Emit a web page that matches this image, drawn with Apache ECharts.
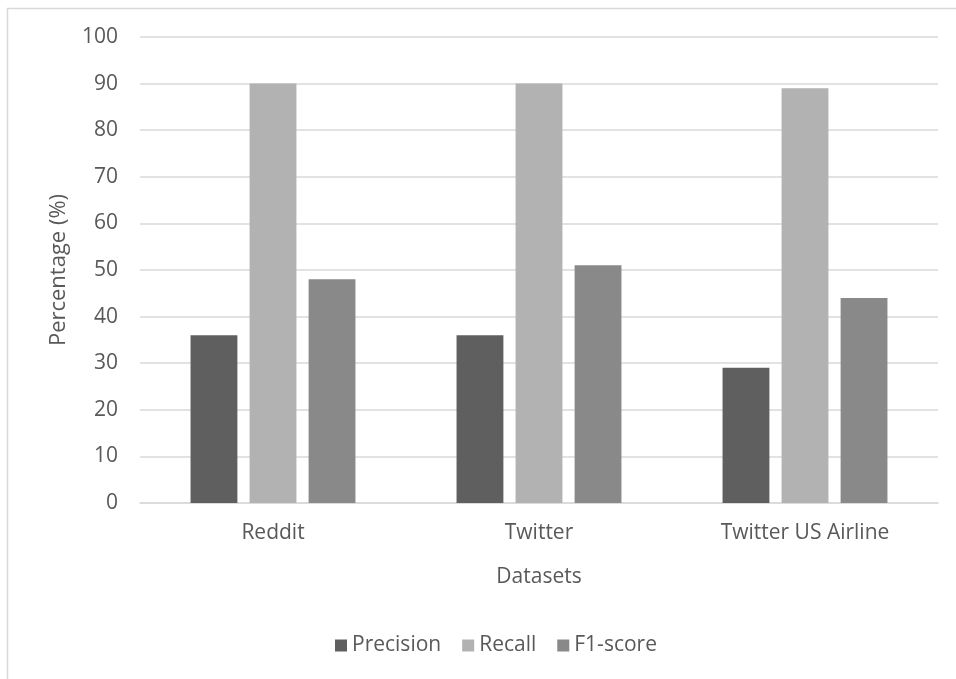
<!DOCTYPE html>
<html>
<head>
<meta charset="utf-8">
<script src="https://cdn.jsdelivr.net/npm/echarts@6/dist/echarts.min.js"></script>
<style>
  html, body { margin: 0; padding: 0; background: #fff; }
  #chart { width: 956px; height: 679px; }
</style>
</head>
<body>
<div id="chart"></div>
<script>
const categories = ['Reddit', 'Twitter', 'Twitter US Airline']
const precision = [36, 36, 29]
const recall = [90, 90, 89]
const f1score = [48, 51, 44]

const font = '"Open Sans", "Liberation Sans", sans-serif'
const chart = echarts.init(document.getElementById('chart'))

chart.setOption({
  animation: false,
  textStyle: { fontFamily: font },
  graphic: [
    {
      type: 'rect',
      shape: { x: 7.5, y: 8.5, width: 1000, height: 1000 },
      style: { fill: 'none', stroke: '#d9d9d9', lineWidth: 1.5 }
    }
  ],
  legend: {
    top: 630,
    left: 330,
    itemWidth: 12,
    itemHeight: 12,
    itemGap: 21,
    icon: 'rect',
    textStyle: { color: '#595959', fontSize: 21, fontFamily: font },
    data: ['Precision', 'Recall', 'F1-score']
  },
  grid: {
    left: 140,
    right: 18,
    top: 37,
    bottom: 176
  },
  xAxis: {
    type: 'category',
    data: categories,
    name: 'Datasets',
    nameLocation: 'middle',
    nameGap: 64,
    nameTextStyle: { color: '#595959', fontSize: 21, fontFamily: font },
    axisTick: { show: false },
    axisLine: { lineStyle: { color: '#d9d9d9', width: 1.5 } },
    axisLabel: { color: '#595959', fontSize: 21, margin: 20, fontFamily: font }
  },
  yAxis: {
    type: 'value',
    min: 0,
    max: 100,
    interval: 10,
    name: 'Percentage (%)',
    nameLocation: 'middle',
    nameGap: 70,
    nameTextStyle: { color: '#595959', fontSize: 22, fontFamily: font },
    axisLine: { show: false },
    axisTick: { show: false },
    axisLabel: { color: '#595959', fontSize: 21, margin: 22, fontFamily: font },
    splitLine: { lineStyle: { color: '#d9d9d9', width: 1.5 } }
  },
  series: [
    {
      name: 'Precision',
      type: 'bar',
      data: precision,
      barGap: '26%',
      barCategoryGap: '38%',
      itemStyle: { color: '#5f5f5f' }
    },
    {
      name: 'Recall',
      type: 'bar',
      data: recall,
      itemStyle: { color: '#b2b2b2' }
    },
    {
      name: 'F1-score',
      type: 'bar',
      data: f1score,
      itemStyle: { color: '#898989' }
    }
  ]
})
</script>
</body>
</html>
